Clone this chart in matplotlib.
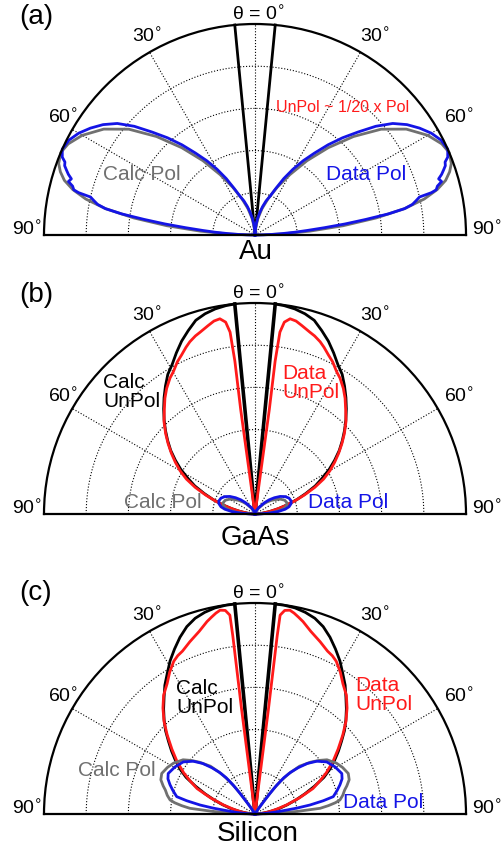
import numpy as np
import matplotlib
matplotlib.use("Agg")
import matplotlib.pyplot as plt

plt.rcParams['font.family'] = ['Liberation Sans', 'DejaVu Sans']

# angles in degrees (0 = normal), radii normalised to outer circle
# --- Au ---
au_calc_th = [0, 5, 10, 15, 20, 25, 30, 35, 40, 45, 50, 55, 60, 64, 67, 70, 72, 74, 76, 78, 80, 82, 84, 86, 88, 90]
au_calc_r = [0, 0.035, 0.08, 0.13, 0.185, 0.25, 0.33, 0.43, 0.54, 0.66, 0.78, 0.875, 0.945, 0.985, 1.0, 0.99,
             0.97, 0.94, 0.89, 0.82, 0.72, 0.58, 0.42, 0.26, 0.12, 0]
au_data_th = [0, 3, 6, 9, 12, 15, 18, 21, 24, 27, 30, 33, 36, 39, 42, 45, 48, 51, 54, 57, 60, 63, 66, 68, 69,
              70, 71, 72, 73, 74, 75, 76, 76.5, 77, 78, 79, 80, 81, 82, 83, 84, 85, 86, 87, 88, 89, 90]
au_data_r = [0, 0.02, 0.05, 0.08, 0.11, 0.14, 0.17, 0.195, 0.24, 0.30, 0.36, 0.42, 0.48, 0.55, 0.62, 0.69,
             0.77, 0.84, 0.89, 0.93, 0.965, 0.99, 1.0, 0.985, 0.965, 0.96, 0.945, 0.93, 0.91, 0.92, 0.895,
             0.885, 0.86, 0.80, 0.78, 0.76, 0.72, 0.64, 0.53, 0.43, 0.33, 0.25, 0.19, 0.13, 0.08, 0.04, 0]

# --- GaAs ---
gaas_cu_th = [5.5, 8, 11, 14, 17, 20, 23, 26, 29, 32, 35, 38, 41, 44, 47, 50, 53, 56, 59, 62, 65, 68, 71,
              74, 77, 80, 84, 88, 90]
gaas_cu_r = [1.0, 0.997, 0.99, 0.978, 0.96, 0.925, 0.89, 0.85, 0.81, 0.78, 0.74, 0.70, 0.66, 0.62, 0.58,
             0.54, 0.50, 0.455, 0.41, 0.36, 0.315, 0.26, 0.21, 0.16, 0.115, 0.075, 0.035, 0.01, 0]
gaas_du_th = [8, 7.8, 7.5, 7.8, 8.7, 10.2, 12, 14, 16.8, 18.5, 20.7, 22.5, 24.8, 27, 29.8, 32, 35.1, 37.9,
              41, 44.6, 48, 51, 54, 57, 60, 63, 66, 69, 72, 75, 78, 81, 84, 87, 90]
gaas_du_r = [0, 0.5, 0.73, 0.87, 0.92, 0.94, 0.935, 0.92, 0.90, 0.89, 0.873, 0.855, 0.83, 0.81, 0.778, 0.76,
             0.728, 0.695, 0.655, 0.614, 0.57, 0.53, 0.49, 0.45, 0.41, 0.365, 0.31, 0.25, 0.195, 0.145, 0.10,
             0.065, 0.035, 0.012, 0]
gaas_cp_th = [0, 20, 30, 40, 45, 50, 55, 60, 65, 70, 74, 78, 81, 84, 87, 89, 90]
gaas_cp_r = [0, 0.012, 0.03, 0.06, 0.08, 0.10, 0.12, 0.14, 0.155, 0.16, 0.157, 0.145, 0.125, 0.095, 0.055, 0.02, 0]
gaas_dp_th = [0, 20, 30, 40, 45, 50, 55, 60, 65, 70, 74, 78, 81, 84, 87, 89, 90]
gaas_dp_r = [0, 0.015, 0.035, 0.07, 0.095, 0.12, 0.145, 0.165, 0.178, 0.182, 0.178, 0.165, 0.145, 0.11, 0.065,
             0.025, 0]

# --- Silicon ---
si_cu_th = [5.5, 8, 11, 14, 17, 20, 23, 26, 29, 32, 35, 38, 41, 44, 47, 50, 53, 56, 59, 62, 65, 68, 71, 74,
            77, 80, 84, 88, 90]
si_cu_r = [1.0, 0.999, 0.995, 0.985, 0.97, 0.945, 0.91, 0.87, 0.83, 0.785, 0.745, 0.70, 0.66, 0.62, 0.58,
           0.535, 0.495, 0.455, 0.415, 0.37, 0.31, 0.255, 0.205, 0.16, 0.12, 0.08, 0.04, 0.01, 0]
si_du_th = [7.5, 7.3, 7.1, 7.2, 8.3, 9.7, 11, 12.5, 14, 17, 20.7, 24, 26, 28, 31, 34, 37.6, 41, 44.5, 48, 52,
            56, 60, 63, 66.3, 70, 74, 78, 82, 86, 90]
si_du_r = [0, 0.5, 0.85, 0.95, 0.975, 0.98, 0.97, 0.955, 0.94, 0.905, 0.873, 0.845, 0.835, 0.82, 0.785, 0.745,
           0.71, 0.665, 0.615, 0.56, 0.50, 0.446, 0.39, 0.345, 0.30, 0.225, 0.156, 0.10, 0.06, 0.025, 0]
si_cp_th = [0, 30, 33, 35, 36.5, 38, 40, 43, 47, 50, 53, 58, 62, 66.5, 70, 73, 75, 78, 80.6, 82, 83.5, 85,
            86.5, 88, 89, 90]
si_cp_r = [0, 0, 0.04, 0.09, 0.15, 0.20, 0.25, 0.31, 0.36, 0.395, 0.427, 0.455, 0.47, 0.482, 0.475, 0.455,
           0.44, 0.425, 0.408, 0.385, 0.35, 0.31, 0.20, 0.10, 0.045, 0]
si_dp_th = [0, 30, 33, 35, 36, 37, 38.5, 40.5, 43, 46, 49.5, 54, 59.5, 65, 68, 71, 74, 77.5, 79, 80.7, 82,
            83.3, 85, 87, 89, 90]
si_dp_r = [0, 0, 0.03, 0.07, 0.12, 0.17, 0.22, 0.26, 0.30, 0.345, 0.385, 0.42, 0.44, 0.454, 0.445, 0.426,
           0.405, 0.38, 0.33, 0.264, 0.20, 0.135, 0.09, 0.045, 0.015, 0]

wedge_deg = 5.5
# (label, left theta, left r, right theta, right r)
angle_labels = [('30', -28.6, 1.069, 31.2, 1.097), ('60', -58.6, 1.065, 60.2, 1.115),
                ('90', -88.7, 1.08, 88.8, 1.10)]

W, H = 501, 851
BLUE, GRAY, RED = '#1414e6', '#707070', '#ff1a1a'
LABEL_FS = 15


def mirror(th, r):
    th = np.radians(th)
    return np.concatenate([-th[::-1], th]), np.concatenate([r[::-1], r])


def side(ax, th, r, **kw):
    th = np.radians(th)
    ax.plot(th, r, clip_on=False, **kw)
    ax.plot(-th, r, clip_on=False, **kw)


def make_axes(cy, wedge_lw):
    R = 211
    # polar half-disk is fitted into a square box, centred vertically
    ax = fig.add_axes([(255 - R) / W, 1 - (cy + R / 2) / H, 2 * R / W, 2 * R / H], projection='polar')
    ax.set_theta_zero_location('N')
    ax.set_theta_direction(-1)
    ax.set_thetamin(-90)
    ax.set_thetamax(90)
    ax.set_rlim(0, 1)
    ax.set_rgrids([0.2, 0.4, 0.6, 0.8], labels=[])
    ax.set_thetagrids([-60, -30, 0, 30, 60], labels=[])
    ax.grid(True, color='k', ls=':', lw=0.8)
    for s in ax.spines.values():
        s.set_linewidth(1.6)
        s.set_color('k')
    for lab, tl, rl, tr, rr in angle_labels:
        ax.text(np.radians(tl), rl, lab + r'$^{\circ}$', ha='center', va='center', fontsize=14)
        ax.text(np.radians(tr), rr, lab + r'$^{\circ}$', ha='center', va='center', fontsize=14)
    ax.text(np.radians(0.8), 1.045, r'θ = 0$^{\circ}$', ha='center', va='center', fontsize=14)
    # excluded cone around the normal
    for s in (-1, 1):
        ax.plot([np.radians(s * wedge_deg)] * 2, [0, 1], color='k', lw=wedge_lw, clip_on=False)
    return ax


def px(x, y):
    return x / W, 1 - y / H


fig = plt.figure(figsize=(W / 100, H / 100), dpi=100)

# (a) Au
ax = make_axes(235, 2.0)
t, r = mirror(au_calc_th, au_calc_r)
ax.plot(t, r, color=GRAY, lw=2, clip_on=False)
t, r = mirror(au_data_th, au_data_r)
ax.plot(t, r, color=BLUE, lw=2, clip_on=False)
fig.text(*px(36, 17), '(a)', fontsize=20, ha='center', va='center')
fig.text(*px(256, 252), 'Au', fontsize=20, ha='center', va='center')
fig.text(*px(142, 175), 'Calc Pol', fontsize=LABEL_FS, color=GRAY, ha='center', va='center')
fig.text(*px(366, 175), 'Data Pol', fontsize=LABEL_FS, color=BLUE, ha='center', va='center')
fig.text(*px(343, 107), 'UnPol ~ 1/20 x Pol', fontsize=11.5, color=RED, ha='center', va='center')

# (b) GaAs
ax = make_axes(514, 2.6)
side(ax, gaas_cu_th, gaas_cu_r, color='k', lw=2)
side(ax, gaas_du_th, gaas_du_r, color=RED, lw=2)
t, r = mirror(gaas_cp_th, gaas_cp_r)
ax.plot(t, r, color=GRAY, lw=2, clip_on=False)
t, r = mirror(gaas_dp_th, gaas_dp_r)
ax.plot(t, r, color=BLUE, lw=2, clip_on=False)
fig.text(*px(36, 295), '(b)', fontsize=20, ha='center', va='center')
fig.text(*px(255, 538), 'GaAs', fontsize=20, ha='center', va='center')
fig.text(*px(103, 392), 'Calc\nUnPol', fontsize=LABEL_FS, color='k', ha='left', va='center', linespacing=1.0)
fig.text(*px(282, 383), 'Data\nUnPol', fontsize=LABEL_FS, color=RED, ha='left', va='center', linespacing=1.0)
fig.text(*px(163, 502), 'Calc Pol', fontsize=LABEL_FS, color=GRAY, ha='center', va='center')
fig.text(*px(348, 502), 'Data Pol', fontsize=LABEL_FS, color=BLUE, ha='center', va='center')

# (c) Silicon
ax = make_axes(814, 2.6)
side(ax, si_cu_th, si_cu_r, color='k', lw=2)
side(ax, si_du_th, si_du_r, color=RED, lw=2)
t, r = mirror(si_cp_th, si_cp_r)
ax.plot(t, r, color=GRAY, lw=2, clip_on=False)
t, r = mirror(si_dp_th, si_dp_r)
ax.plot(t, r, color=BLUE, lw=2, clip_on=False)
fig.text(*px(36, 593), '(c)', fontsize=20, ha='center', va='center')
fig.text(*px(258, 834), 'Silicon', fontsize=20, ha='center', va='center')
fig.text(*px(176, 698), 'Calc\nUnPol', fontsize=LABEL_FS, color='k', ha='left', va='center', linespacing=1.0)
fig.text(*px(355, 695), 'Data\nUnPol', fontsize=LABEL_FS, color=RED, ha='left', va='center', linespacing=1.0)
fig.text(*px(117, 770), 'Calc Pol', fontsize=LABEL_FS, color=GRAY, ha='center', va='center')
fig.text(*px(383, 802), 'Data Pol', fontsize=LABEL_FS, color=BLUE, ha='center', va='center')

fig.savefig('out.png', dpi=100)
